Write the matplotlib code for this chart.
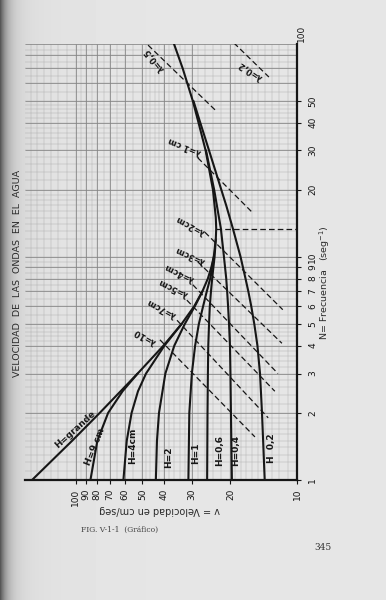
import numpy as np
import matplotlib
matplotlib.use("Agg")
import matplotlib.pyplot as plt

plt.rcParams.update({
    "font.family": "DejaVu Sans",
    "font.size": 6.5,
})

PAPER = "#e6e6e4"
INK = "#161616"

# ---------------------------------------------------------
# curves: frequency N (1/s) -> velocity v (cm/s)
# ---------------------------------------------------------
h_labels = ["H=grande", "H=9 cm", "H=4cm", "H=2", "H=1", "H=0,6", "H=0,4", "H  0,2"]

f_grande = [1, 1.5, 2, 2.5, 3, 4, 5, 6, 7, 8, 9, 10, 12, 13.4, 15, 20, 30, 40, 50, 70, 90]
v_grande = [158, 104, 78, 62.8, 52.6, 40.2, 33.3, 29.2, 26.8, 25.3, 24.4, 23.8, 23.3, 23.2,
            23.3, 24.0, 25.9, 27.9, 29.6, 32.9, 36]

f_h9 = [1, 1.5, 2, 2.5, 3]
v_h9 = [86, 80, 71.5, 61.5, 52.6]

f_h4 = [1, 1.5, 2, 2.5, 3, 4, 5]
v_h4 = [61, 58.9, 56, 52.4, 48.2, 39.8, 33.3]

f_h2 = [1, 1.5, 2, 3, 4, 5, 6, 7]
v_h2 = [43.5, 43.0, 42.1, 39.4, 35.9, 32.2, 29.0, 26.8]

f_h1 = [1, 2, 3, 4, 5, 6, 7, 8, 10]
v_h1 = [31.0, 30.7, 29.9, 28.9, 27.8, 26.6, 25.6, 24.7, 23.8]

f_h06 = [1, 2, 3, 4, 5, 6, 7, 8, 10, 12]
v_h06 = [25.5, 25.4, 25.3, 25.2, 25.0, 24.8, 24.5, 24.2, 23.6, 23.3]

f_h04 = [1, 2, 3, 4, 5, 6, 7, 8, 10, 13.4, 20, 30]
v_h04 = [19.7, 19.9, 20.0, 20.1, 20.3, 20.5, 20.7, 20.9, 21.4, 22.1, 23.7, 25.8]

f_h02 = [1, 2, 3, 4, 5, 6, 7, 8, 10, 13.4, 17, 20, 25, 30, 40, 50]
v_h02 = [14.0, 14.4, 14.7, 15.1, 15.6, 16.1, 16.6, 17.1, 18.0, 19.5, 20.9, 22.0, 23.6,
         25.0, 27.4, 29.4]

curves_f = [f_grande, f_h9, f_h4, f_h2, f_h1, f_h06, f_h04, f_h02]
curves_v = [v_grande, v_h9, v_h4, v_h2, v_h1, v_h06, v_h04, v_h02]

# where the H labels sit (velocity, frequency) and their tilt
h_label_v = [101, 82, 55.2, 37.9, 28.6, 22.3, 18.9, 13.0]
h_label_f = [1.68, 1.41, 1.42, 1.27, 1.32, 1.36, 1.36, 1.39]
h_label_rot = [42, 68, 90, 90, 90, 90, 90, 90]

# constant wavelength lines (dashed), start / end
lam_labels = ["λ=0,2", "λ=0,5", "λ=1 cm", "λ=2cm", "λ=3cm", "λ=4cm", "λ=5cm", "λ=7cm", "λ=10"]
lam_f0 = [91, 89, 27.8, 12.9, 9.5, 7.5, 6.4, 5.2, 4.25]
lam_v0 = [19.3, 47.2, 28.1, 26.1, 28.1, 29.6, 31.5, 34.9, 41.7]
lam_f1 = [64, 44.7, 15.9, 5.8, 4.1, 3.0, 2.5, 1.9, 1.56]
lam_v1 = [13.4, 23.0, 16.0, 11.6, 11.7, 12.2, 12.6, 13.5, 15.5]
lam_label_v = [16.3, 43.9, 32.1, 30.2, 30.5, 34.2, 36.4, 40.8, 48.8]
lam_label_f = [68.7, 76.5, 31.5, 13.9, 10.2, 8.57, 7.34, 5.91, 4.42]
lam_label_rot = [146, 128, 158, 152, 156, 154, 154, 152, 150]

# frequency of minimum velocity (horizontal dashed line)
f_min = 13.4
v_min = 23.2

freq_ticks = [1, 2, 3, 4, 5, 6, 7, 8, 9, 10, 20, 30, 40, 50]
vel_ticks = [100, 90, 80, 70, 60, 50, 40, 30, 20, 10]

V_LIM = (170, 10)
F_LIM = (1, 90)

# =========================================================
fig = plt.figure(figsize=(3.86, 6.0), dpi=100)
fig.patch.set_facecolor(PAPER)

# scanned page: darker gutter on the left
bg = fig.add_axes([0, 0, 1, 1], zorder=-5)
xs = np.arange(386)
shade = 0.90 - 0.50 * np.exp(-xs / 7.0) - 0.06 * np.exp(-xs / 40.0)
bg.imshow(np.tile(shade, (600, 1)), cmap="gray", vmin=0, vmax=1,
          extent=[0, 386, 600, 0], aspect="auto")
bg.set_axis_off()

ax = fig.add_axes([25 / 386, 120 / 600, 272 / 386, 436 / 600])
ax.set_facecolor("none")
ax.set_xscale("log")
ax.set_yscale("log")
ax.set_xlim(*V_LIM)
ax.set_ylim(*F_LIM)


# graph paper
def paper_values(decades, lo, hi):
    fine, bold = [], []
    for d in decades:
        fine += list(np.arange(1, 2, 0.1) * d) + list(np.arange(2, 5, 0.2) * d) \
            + list(np.arange(5, 10, 0.5) * d)
        bold += list(np.arange(1, 10) * d)
    fine = [v for v in fine if lo <= v <= hi]
    bold = [v for v in bold if lo <= v <= hi]
    return fine, bold


vf, vb = paper_values([10, 100], 10, 170)
ff, fb = paper_values([1, 10], 1, 90)
ax.vlines(vf, *F_LIM, color="#aaaaaa", lw=0.3, zorder=0)
ax.hlines(ff, *V_LIM, color="#aaaaaa", lw=0.3, zorder=0)
ax.vlines(vb, *F_LIM, color="#858585", lw=0.55, zorder=0)
ax.hlines(fb, *V_LIM, color="#858585", lw=0.55, zorder=0)

# depth curves
for fv, vv in zip(curves_f, curves_v):
    ax.plot(vv, fv, color=INK, lw=1.5, solid_capstyle="round", zorder=3)

for lab, v, f, r in zip(h_labels, h_label_v, h_label_f, h_label_rot):
    ax.text(v, f, lab, rotation=r, ha="center", va="center", fontsize=6.5,
            fontweight="bold", color=INK, zorder=4)

# wavelength lines
for lab, f0, v0, f1, v1, lv, lf, r in zip(lam_labels, lam_f0, lam_v0, lam_f1, lam_v1,
                                          lam_label_v, lam_label_f, lam_label_rot):
    ax.plot([v0, v1], [f0, f1], color=INK, lw=0.9, ls=(0, (4.5, 2.5)), zorder=2)
    ax.text(lv, lf, lab, rotation=r, ha="center", va="center", fontsize=6,
            fontweight="bold", color=INK, rotation_mode="anchor", zorder=4)

ax.plot([v_min, V_LIM[1]], [f_min, f_min], color=INK, lw=0.9, ls=(0, (4.5, 2.5)), zorder=2)

# axes frame
for side in ["left", "top"]:
    ax.spines[side].set_visible(False)
for side in ["right", "bottom"]:
    ax.spines[side].set_linewidth(1.6)
    ax.spines[side].set_color(INK)

ax.yaxis.tick_right()
ax.set_yticks(freq_ticks)
ax.set_yticklabels([str(t) for t in freq_ticks])
ax.set_xticks(vel_ticks)
ax.set_xticklabels([str(t) for t in vel_ticks])
ax.minorticks_off()
ax.tick_params(axis="y", which="major", direction="out", length=3, width=0.8,
               pad=5, labelrotation=90, labelsize=6.5, colors=INK)
ax.tick_params(axis="x", which="major", direction="out", length=3, width=0.8,
               pad=3, labelrotation=90, labelsize=6.5, colors=INK)
for lbl in ax.get_yticklabels():
    lbl.set_va("center")
ax.text(1.0, 100, "100", transform=ax.get_yaxis_transform(), rotation=90,
        ha="left", va="center", fontsize=6.5, color=INK, clip_on=False)

# page texts
fig.text(18 / 386, 1 - 273 / 600, "VELOCIDAD  DE  LAS  ONDAS  EN  EL  AGUA", rotation=90,
         ha="center", va="center", fontsize=6.8, color="#2a2a2a")
fig.text(325 / 386, 1 - 283 / 600, "N= Frecuencia   (seg$^{-1}$)", rotation=90,
         ha="center", va="center", fontsize=6.8, color="#2a2a2a")
fig.text(160 / 386, 1 - 510 / 600, "v = Velocidad en cm/seg", rotation=180,
         ha="center", va="center", fontsize=7, color="#2a2a2a")
fig.text(120 / 386, 1 - 530 / 600, "FIG. V-1-1  (Gráfico)", ha="center", va="center",
         fontsize=5.5, family="DejaVu Serif", color="#444444")
fig.text(323 / 386, 1 - 547 / 600, "345", ha="center", va="center",
         fontsize=6.5, family="DejaVu Serif", color="#333333")

fig.savefig("out.png", dpi=100, facecolor=fig.get_facecolor())
